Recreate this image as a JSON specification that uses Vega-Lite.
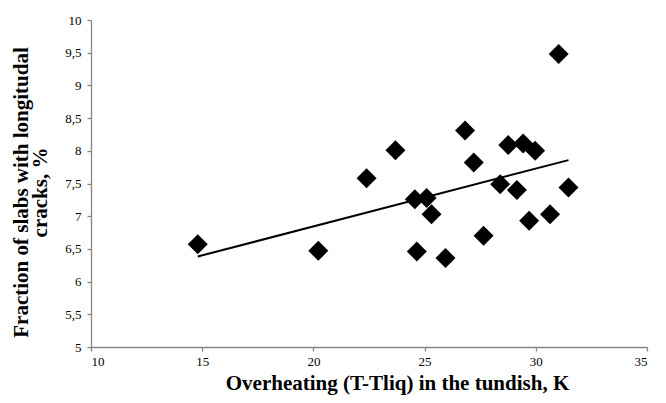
{
  "$schema": "https://vega.github.io/schema/vega-lite/v6.json",
  "width": 556,
  "height": 327,
  "autosize": {"type": "none"},
  "padding": {"left": 91, "top": 20, "right": 19, "bottom": 56},
  "background": "white",
  "config": {
    "view": {"stroke": null},
    "font": "Liberation Serif",
    "axis": {
      "grid": false,
      "domainColor": "#868686",
      "domainWidth": 1.3,
      "tickColor": "#868686",
      "tickWidth": 1.3,
      "tickSize": 4,
      "labelFont": "Liberation Serif",
      "labelFontSize": 13,
      "labelColor": "#000000",
      "titleFont": "Liberation Serif",
      "titleFontSize": 21,
      "titleFontWeight": "bold",
      "titleColor": "#000000"
    }
  },
  "data": {
    "values": [
      {"x": 14.80, "y": 6.57},
      {"x": 20.22, "y": 6.47},
      {"x": 22.39, "y": 7.58},
      {"x": 23.69, "y": 8.01},
      {"x": 24.56, "y": 7.26},
      {"x": 24.65, "y": 6.46},
      {"x": 25.09, "y": 7.28},
      {"x": 25.31, "y": 7.03},
      {"x": 25.94, "y": 6.36},
      {"x": 26.82, "y": 8.31},
      {"x": 27.21, "y": 7.82},
      {"x": 27.65, "y": 6.70},
      {"x": 28.40, "y": 7.49},
      {"x": 28.76, "y": 8.09},
      {"x": 29.15, "y": 7.40},
      {"x": 29.43, "y": 8.11},
      {"x": 29.70, "y": 6.93},
      {"x": 29.97, "y": 8.00},
      {"x": 30.64, "y": 7.03},
      {"x": 31.03, "y": 9.48},
      {"x": 31.47, "y": 7.44}
    ]
  },
  "encoding": {
    "x": {
      "field": "x",
      "type": "quantitative",
      "scale": {"domain": [10, 35], "nice": false, "zero": false},
      "axis": {
        "values": [10, 15, 20, 25, 30, 35],
        "title": "Overheating (T-Tliq) in the tundish, K",
        "labelPadding": 4,
        "titlePadding": 4,
        "titleX": 306
      }
    },
    "y": {
      "field": "y",
      "type": "quantitative",
      "scale": {"domain": [5, 10], "nice": false, "zero": false},
      "axis": {
        "values": [5, 5.5, 6, 6.5, 7, 7.5, 8, 8.5, 9, 9.5, 10],
        "labelExpr": "replace(toString(datum.value), '.', ',')",
        "labelPadding": 6,
        "title": ["Fraction  of slabs with longitudal", "cracks, %"],
        "titleLineHeight": 19,
        "titlePadding": 14,
        "titleY": 172
      }
    }
  },
  "layer": [
    {
      "transform": [{"regression": "y", "on": "x"}],
      "mark": {"type": "line", "color": "#000000", "strokeWidth": 2}
    },
    {
      "mark": {"type": "point", "shape": "diamond", "filled": true, "color": "#000000", "size": 400, "opacity": 1}
    }
  ]
}
